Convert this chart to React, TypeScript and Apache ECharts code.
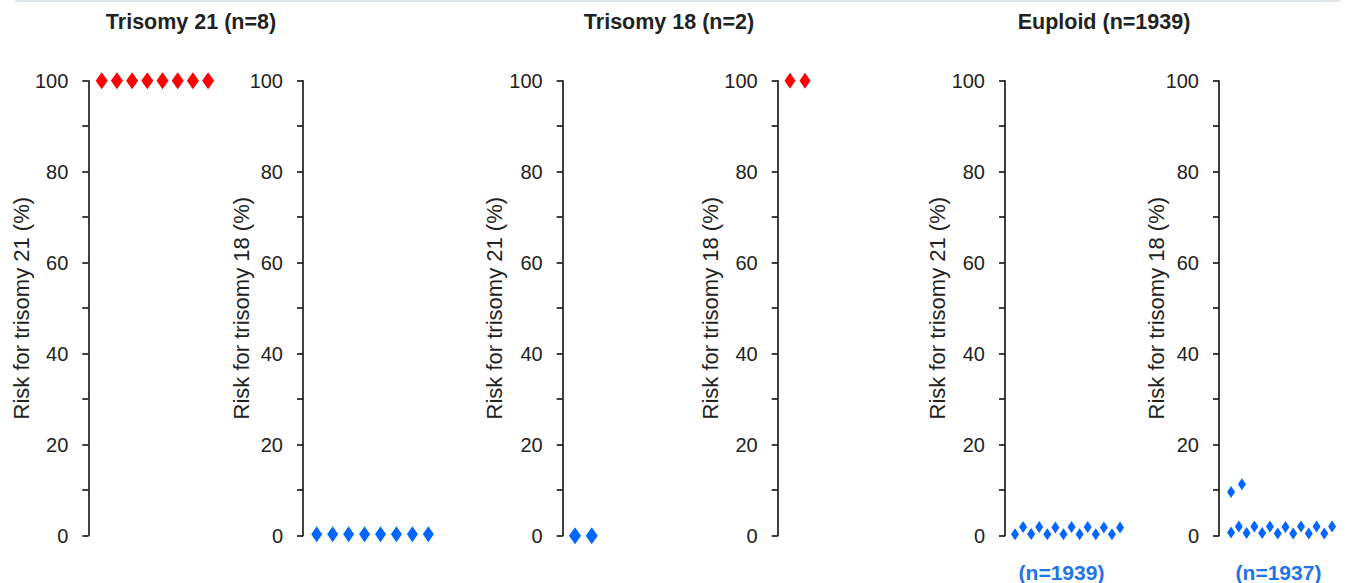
import React, { useEffect, useRef } from "react";
import * as echarts from "echarts";

// ---- data ----
const groupTitles = ["Trisomy 21 (n=8)", "Trisomy 18 (n=2)", "Euploid (n=1939)"];
const yAxisNames = [
  "Risk for trisomy 21 (%)",
  "Risk for trisomy 18 (%)",
  "Risk for trisomy 21 (%)",
  "Risk for trisomy 18 (%)",
  "Risk for trisomy 21 (%)",
  "Risk for trisomy 18 (%)",
];
const yMin = 0;
const yMax = 100;
const yInterval = 20;

// Trisomy 21 cases
const t21RiskT21 = [100, 100, 100, 100, 100, 100, 100, 100];
const t21RiskT21Pos = [0, 1, 2, 3, 4, 5, 6, 7];
const t21RiskT18 = [0.3, 0.3, 0.3, 0.3, 0.3, 0.3, 0.3, 0.3];
const t21RiskT18Pos = [0, 1, 2, 3, 4, 5, 6, 7];
// Trisomy 18 cases
const t18RiskT21 = [0, 0];
const t18RiskT21Pos = [0, 1];
const t18RiskT18 = [100, 100];
const t18RiskT18Pos = [0, 1];
// Euploid cases
const euRiskT21 = [0.3, 1.9, 0.4, 1.9, 0.3, 1.8, 0.3, 1.9, 0.3, 1.9, 0.3, 1.8, 0.3, 1.8];
const euRiskT21Pos = [0, 1, 2, 3, 4, 5, 6, 7, 8, 9, 10, 11, 12, 13];
const euRiskT18 = [9.6, 11.3, 0.7, 2.0, 0.6, 2.0, 0.6, 2.0, 0.5, 1.9, 0.5, 2.0, 0.5, 2.0, 0.5, 2.0];
const euRiskT18Pos = [0, 1.4, 0, 1, 2, 3, 4, 5, 6, 7, 8, 9, 10, 11, 12, 13];

const bottomLabels = ["(n=1939)", "(n=1937)"];

const seriesData = [t21RiskT21, t21RiskT18, t18RiskT21, t18RiskT18, euRiskT21, euRiskT18];
const seriesPos = [t21RiskT21Pos, t21RiskT18Pos, t18RiskT21Pos, t18RiskT18Pos, euRiskT21Pos, euRiskT18Pos];

// ---- layout / style ----
const RED = "#ff0000";
const BLUE = "#0066ff";
const TEXT = "#222222";
const FONT = "'Liberation Sans', Arial, sans-serif";
const GRID_TOP = 80.7;
const GRID_H = 455;
const GRID_W = 140;

const panels = [
  { axisX: 88.3, offset: 13.4, spacing: 15.2, size: [12, 17], color: RED, gap: 56 },
  { axisX: 303, offset: 13.7, spacing: 15.95, size: [11, 16], color: BLUE, gap: 51 },
  { axisX: 562.7, offset: 12.3, spacing: 16.7, size: [12, 17], color: BLUE, gap: 57 },
  { axisX: 777.7, offset: 12.3, spacing: 15, size: [11, 16], color: RED, gap: 56 },
  { axisX: 1005, offset: 10, spacing: 8.08, size: [8, 12], color: BLUE, gap: 57 },
  { axisX: 1219, offset: 12.7, spacing: 8.18, size: [8, 12], color: BLUE, gap: 52 },
];
const titleCenters = [191, 669, 1104];
const bottomCenters = [1061.5, 1278.5];

export default function App() {
  const ref = useRef<HTMLDivElement>(null);
  useEffect(() => {
    if (!ref.current) return;
    const chart = echarts.init(ref.current, undefined, { renderer: "svg" });
    const grids = panels.map((p) => ({
      left: p.axisX,
      top: GRID_TOP,
      width: GRID_W,
      height: GRID_H,
      containLabel: false,
    }));
    const xAxes = panels.map((p, i) => {
      const min = -p.offset / p.spacing;
      return {
        type: "value",
        gridIndex: i,
        min,
        max: min + GRID_W / p.spacing,
        show: false,
        axisLine: { onZero: false },
      };
    });
    const yAxes = panels.map((p, i) => ({
      type: "value",
      gridIndex: i,
      min: yMin,
      max: yMax,
      interval: yInterval,
      name: yAxisNames[i],
      nameLocation: "middle",
      nameGap: p.gap,
      nameMoveOverlap: false,
      nameTextStyle: { color: TEXT, fontSize: 22, fontFamily: FONT },
      axisLine: { show: true, onZero: false, lineStyle: { color: "#111", width: 1.6 } },
      axisTick: { show: true, length: 6, lineStyle: { color: "#111", width: 1.6 } },
      minorTick: { show: true, splitNumber: 2, length: 6, lineStyle: { color: "#111", width: 1.6 } },
      splitLine: { show: false },
      axisLabel: { color: TEXT, fontSize: 20, fontFamily: FONT, margin: 20 },
    }));
    const series = panels.map((p, i) => ({
      type: "scatter",
      xAxisIndex: i,
      yAxisIndex: i,
      symbol: "diamond",
      symbolSize: p.size,
      itemStyle: { color: p.color, opacity: 1 },
      data: seriesData[i].map((v, j) => [seriesPos[i][j], v]),
    }));
    const graphic: any[] = [
      {
        type: "rect",
        shape: { x: 15, y: 0, width: 1325, height: 2, r: 1 },
        style: { fill: "#dfe5ec" },
        silent: true,
      },
      ...groupTitles.map((t, i) => ({
        type: "text",
        x: titleCenters[i],
        y: 22,
        style: {
          text: t,
          fontSize: 21.5,
          fontWeight: "bold",
          fontFamily: FONT,
          fill: TEXT,
          textAlign: "center",
          textVerticalAlign: "middle",
        },
      })),
      ...bottomLabels.map((t, i) => ({
        type: "text",
        x: bottomCenters[i],
        y: 572,
        style: {
          text: t,
          fontSize: 21,
          fontWeight: "bold",
          fontFamily: FONT,
          fill: "#1f74e6",
          textAlign: "center",
          textVerticalAlign: "middle",
        },
      })),
    ];
    chart.setOption({
      animation: false,
      backgroundColor: "#ffffff",
      grid: grids,
      xAxis: xAxes,
      yAxis: yAxes,
      series,
      graphic,
    });
    return () => chart.dispose();
  }, []);
  return (
    <div
      ref={ref}
      style={{ position: "fixed", left: 0, top: 0, width: 1352, height: 583 }}
    />
  );
}
